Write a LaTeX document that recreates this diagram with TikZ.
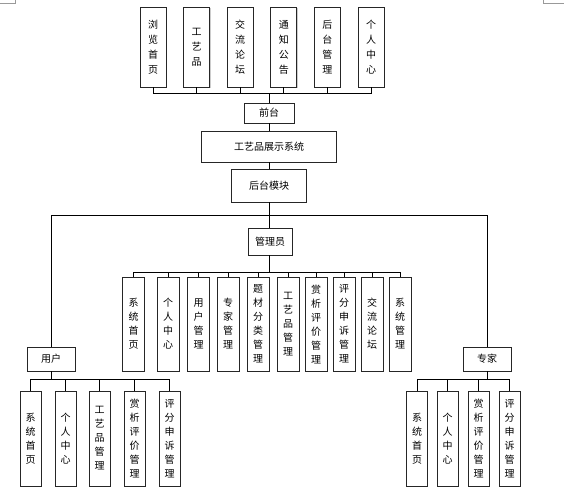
\documentclass[tikz,border=0pt]{standalone}
\usepackage{fontspec}
\setmainfont{Noto Sans CJK SC}
\usetikzlibrary{positioning, shadows}

\begin{document}
\begin{tikzpicture}[x=1pt, y=-1pt,
    box/.style={
        draw=black!85, line width=0.8pt, fill=white, inner sep=0pt,
        font=\fontsize{10}{14}\selectfont, align=center,
        drop shadow={shadow xshift=0.9pt, shadow yshift=-0.9pt, fill=black!40, opacity=0.5}
    },
    topbox/.style={box, minimum width=26pt, minimum height=80pt, font=\fontsize{10}{15}\selectfont},
    funcbox/.style={box, minimum width=22pt, minimum height=94pt},
    leafbox/.style={box, minimum width=21pt, minimum height=95pt},
    rolebox/.style={box, minimum width=48pt, minimum height=24pt},
    link/.style={draw=black, line width=0.7pt},
    cornermark/.style={draw=black!40, line width=0.5pt}
]
\useasboundingbox (0,0) rectangle (567,503);

% Page corner marks
\draw[cornermark] (0,3) -- (15,3) -- (15,0);
\draw[cornermark] (543,0) -- (543,3) -- (564,3);

% Front-end modules
\node[topbox] (t1) at (153,47) {浏\\览\\首\\页};
\node[topbox] (t2) at (196.6,47) {工\\艺\\品};
\node[topbox] (t3) at (240.2,47) {交\\流\\论\\坛};
\node[topbox] (t4) at (283.8,47) {通\\知\\公\\告};
\node[topbox] (t5) at (327.4,47) {后\\台\\管\\理};
\node[topbox] (t6) at (371,47) {个\\人\\中\\心};

% Main chain
\node[box, minimum width=50pt, minimum height=20pt] (qiantai) at (269,113) {前台};
\node[box, minimum width=135pt, minimum height=31pt] (system) at (269,146.5) {工艺品展示系统};
\node[box, minimum width=75pt, minimum height=33pt] (houtai) at (269,185.5) {后台模块};

% Roles
\node[box, minimum width=44pt, minimum height=27pt] (admin) at (270,241.5) {管理员};
\node[rolebox] (user) at (51,359) {用户};
\node[rolebox] (expert) at (487,359) {专家};

% Admin functions
\node[funcbox] (a1) at (133.5,324) {系\\统\\首\\页};
\node[funcbox] (a2) at (168,324) {个\\人\\中\\心};
\node[funcbox] (a3) at (198.5,324) {用\\户\\管\\理};
\node[funcbox] (a4) at (228,324) {专\\家\\管\\理};
\node[funcbox] (a5) at (258,324) {题\\材\\分\\类\\管\\理};
\node[funcbox] (a6) at (288,324) {工\\艺\\品\\管\\理};
\node[funcbox] (a7) at (316,324) {赏\\析\\评\\价\\管\\理};
\node[funcbox] (a8) at (344,324) {评\\分\\申\\诉\\管\\理};
\node[funcbox] (a9) at (372,324) {交\\流\\论\\坛};
\node[funcbox] (a10) at (400,324) {系\\统\\管\\理};

% User functions
\node[leafbox] (u1) at (30.5,438.5) {系\\统\\首\\页};
\node[leafbox] (u2) at (65.5,438.5) {个\\人\\中\\心};
\node[leafbox] (u3) at (99.5,438.5) {工\\艺\\品\\管\\理};
\node[leafbox] (u4) at (134.5,438.5) {赏\\析\\评\\价\\管\\理};
\node[leafbox] (u5) at (169.5,438.5) {评\\分\\申\\诉\\管\\理};

% Expert functions
\node[leafbox] (e1) at (417,438.5) {系\\统\\首\\页};
\node[leafbox] (e2) at (447.5,438.5) {个\\人\\中\\心};
\node[leafbox] (e3) at (478.5,438.5) {赏\\析\\评\\价\\管\\理};
\node[leafbox] (e4) at (509.5,438.5) {评\\分\\申\\诉\\管\\理};

% Bus points
\coordinate (topbus) at (269,93);
\coordinate (hbus) at (269,215);
\coordinate (abus) at (269,272);
\coordinate (ubus) at (51,379);
\coordinate (ebus) at (487,379);

% Connectors: front-end
\draw[link] (t1.south) |- (topbus) (t2.south) |- (topbus) (t3.south) |- (topbus)
    (t4.south) |- (topbus) (t5.south) |- (topbus) (t6.south) |- (topbus);
\draw[link] (topbus) -- (qiantai);
\draw[link] (qiantai) -- (system);
\draw[link] (system) -- (houtai);

% Connectors: roles
\draw[link] (houtai) -- (hbus);
\draw[link] (hbus) -- (hbus |- admin.north);
\draw[link] (hbus) -| (user.north);
\draw[link] (hbus) -| (expert.north);

% Connectors: admin functions
\draw[link] (abus |- admin.south) -- (abus);
\draw[link] (a1.north) |- (abus) (a2.north) |- (abus) (a3.north) |- (abus)
    (a4.north) |- (abus) (a5.north) |- (abus) (a6.north) |- (abus)
    (a7.north) |- (abus) (a8.north) |- (abus) (a9.north) |- (abus) (a10.north) |- (abus);

% Connectors: user and expert functions
\draw[link] (user) -- (ubus);
\draw[link] (u1.north) |- (ubus) (u2.north) |- (ubus) (u3.north) |- (ubus)
    (u4.north) |- (ubus) (u5.north) |- (ubus);
\draw[link] (expert) -- (ebus);
\draw[link] (e1.north) |- (ebus) (e2.north) |- (ebus) (e3.north) |- (ebus) (e4.north) |- (ebus);

\end{tikzpicture}
\end{document}
